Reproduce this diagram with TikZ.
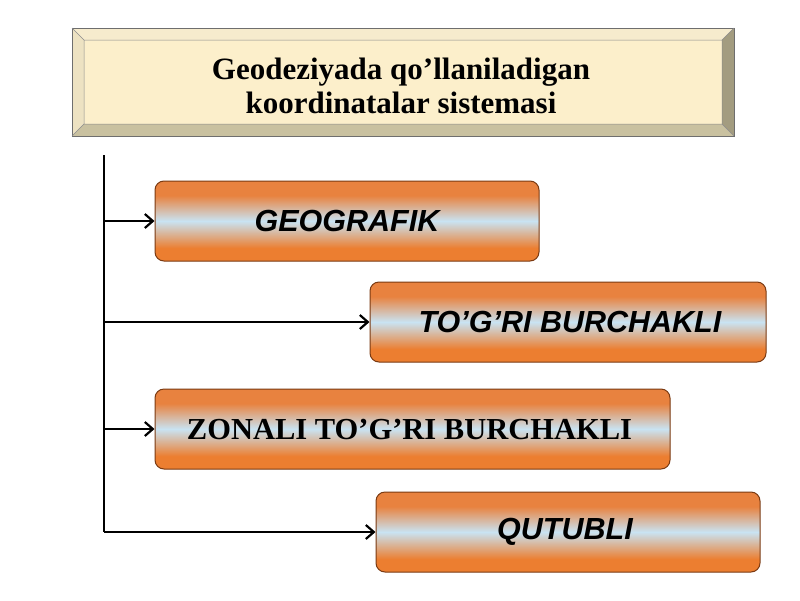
\documentclass[tikz,border=0pt]{standalone}
\usepackage{fontspec}
\setmainfont{Liberation Serif}
\setsansfont{Liberation Sans}
\usetikzlibrary{arrows.meta}
\definecolor{face}{HTML}{FCEFCB}
\definecolor{bevtop}{HTML}{F6EBCD}
\definecolor{bevleft}{HTML}{EDE2C2}
\definecolor{bevbot}{HTML}{C9C1A0}
\definecolor{bevright}{HTML}{A39C80}
\definecolor{edgegrey}{HTML}{6E6E6E}
\definecolor{orangetop}{HTML}{E8823F}
\definecolor{orangebot}{HTML}{EC7E30}
\definecolor{midblue}{HTML}{C9E3F2}
\definecolor{boxedge}{HTML}{7A3A12}
\pgfdeclareverticalshading{sysshade}{100bp}{color(0bp)=(orangebot); color(33bp)=(orangebot); color(50bp)=(midblue); color(66bp)=(orangetop); color(100bp)=(orangetop)}
\tikzset{
  sysbox/.style={rectangle, rounded corners=9pt, draw=boxedge, line width=1pt,
    shading=sysshade, minimum height=80pt, inner sep=0pt, text=black},
  sanslabel/.style={font=\sffamily\bfseries\itshape\fontsize{30.5}{34}\selectfont},
  seriflabel/.style={font=\rmfamily\bfseries\fontsize{30.5}{34}\selectfont},
  link/.style={line width=2.6pt, draw=black, -{Straight Barb[length=8pt,width=14pt,line width=2.2pt]}},
  trunkline/.style={line width=2.6pt, draw=black}
}
\begin{document}
\begin{tikzpicture}[x=1pt,y=-1pt]
\useasboundingbox (0,0) rectangle (800,600);
\fill[white] (0,0) rectangle (800,600);
% title bevel box
\fill[face] (84,40) rectangle (722,124);
\fill[bevtop] (72,28) -- (734,28) -- (722,40) -- (84,40) -- cycle;
\fill[bevleft] (72,28) -- (84,40) -- (84,124) -- (72,136) -- cycle;
\fill[bevbot] (72,136) -- (84,124) -- (722,124) -- (734,136) -- cycle;
\fill[bevright] (734,28) -- (722,40) -- (722,124) -- (734,136) -- cycle;
\draw[edgegrey, line width=0.8pt] (72,28) rectangle (734,136);
\draw[edgegrey!80, line width=0.5pt] (84,40) rectangle (722,124)
  (72,28) -- (84,40) (734,28) -- (722,40) (72,136) -- (84,124) (734,136) -- (722,124);
\node[align=center, font=\rmfamily\bfseries\fontsize{31}{34}\selectfont] (title) at (401,86)
  {Geodeziyada qo’llaniladigan\\koordinatalar sistemasi};
% system boxes
\node[sysbox, minimum width=384pt, sanslabel] (b1) at (347,221) {GEOGRAFIK};
\node[sysbox, minimum width=396pt, sanslabel] (b2) at (568,322) {\hspace*{4pt}TO’G’RI BURCHAKLI};
\node[sysbox, minimum width=515pt, seriflabel] (b3) at (412.5,429) {ZONALI TO’G’RI BURCHAKLI\hspace*{6pt}};
\node[sysbox, minimum width=384pt, sanslabel] (b4) at (568,532) {\hspace*{-6pt}QUTUBLI};
% connectors
\coordinate (top) at (104,155);
\draw[trunkline] (top) -- (top |- b4.west);
\draw[link] (top |- b1.west) -- (b1.west);
\draw[link] (top |- b2.west) -- (b2.west);
\draw[link] (top |- b3.west) -- (b3.west);
\draw[link] (top |- b4.west) -- (b4.west);
\end{tikzpicture}
\end{document}
